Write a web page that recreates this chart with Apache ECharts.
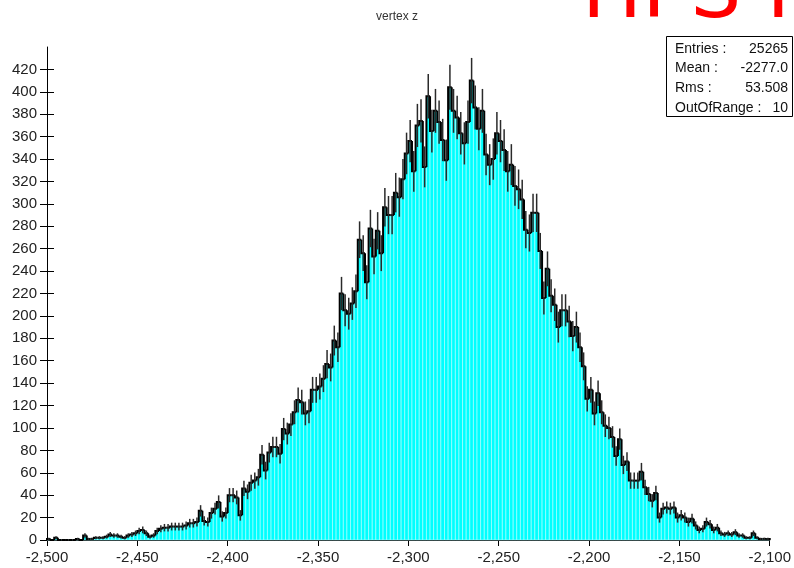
<!DOCTYPE html>
<html>
<head>
<meta charset="utf-8">
<script src="https://cdn.jsdelivr.net/npm/echarts@6/dist/echarts.min.js"></script>
<style>
  html, body { margin: 0; padding: 0; background: #ffffff; }
  #chart { width: 794px; height: 568px; }
</style>
</head>
<body>
<div id="chart"></div>
<script>
// Histogram binning: 200 bins of width 2 starting at -2500
const binStart = -2500;
const binWidth = 2;

// Entries per bin
const counts = [
  1, 0, 2, 0, 0, 0, 0, 0, 1, 0, 4, 1, 1, 2, 2, 2, 3, 5, 4, 4,
  3, 2, 4, 5, 6, 8, 9, 6, 3, 4, 8, 10, 11, 11, 12, 12, 12, 12, 13, 15,
  15, 16, 26, 17, 16, 24, 28, 34, 21, 24, 40, 40, 38, 22, 46, 43, 51, 53, 56, 76,
  62, 78, 83, 83, 77, 99, 95, 103, 114, 125, 123, 113, 115, 134, 134, 137, 144, 157, 154, 178,
  172, 220, 205, 202, 211, 222, 268, 256, 230, 278, 253, 276, 256, 297, 290, 290, 310, 306, 322, 345,
  356, 329, 370, 374, 333, 396, 365, 383, 373, 357, 339, 404, 383, 377, 363, 354, 373, 410, 386, 367,
  383, 344, 335, 340, 363, 356, 348, 329, 335, 316, 313, 304, 277, 274, 292, 292, 258, 216, 242, 218,
  210, 190, 205, 205, 195, 182, 190, 172, 155, 126, 134, 113, 131, 114, 102, 100, 92, 75, 90, 67,
  70, 53, 53, 53, 61, 47, 41, 35, 42, 20, 28, 29, 28, 29, 20, 22, 20, 16, 19, 13,
  9, 10, 16, 14, 9, 11, 6, 5, 6, 5, 7, 4, 4, 2, 2, 6, 2, 1, 1, 1
];

// Axis ticks
const xTickValues = [-2500, -2450, -2400, -2350, -2300, -2250, -2200, -2150, -2100];
const yTickValues = [0, 20, 40, 60, 80, 100, 120, 140, 160, 180, 200, 220, 240, 260, 280, 300, 320, 340, 360, 380, 400, 420];

// Texts
const titleText = 'vertex z';
const bannerText = 'HPS Internal';
const statsLabels = ['Entries :', 'Mean :', 'Rms :', 'OutOfRange :'];
const statsValues = ['25265', '-2277.0', '53.508', '10'];

// [low edge, high edge, count] per bin
const bins = counts.map((n, i) => [binStart + i * binWidth, binStart + (i + 1) * binWidth, n]);

const FONT = '"Liberation Sans", Arial, sans-serif';
const BANNER_FONT = '"DejaVu Sans", sans-serif';
const chart = echarts.init(document.getElementById('chart'), null, { renderer: 'canvas' });

function fillItem(params, api) {
  const lo = api.coord([api.value(0), 0]);
  const hi = api.coord([api.value(1), api.value(2)]);
  return {
    type: 'rect',
    shape: { x: lo[0], y: hi[1], width: hi[0] - lo[0], height: lo[1] - hi[1] },
    style: { fill: '#00ffff', stroke: '#b8ffff', lineWidth: 0.6 }
  };
}

function outlineItem(params, api) {
  const i = params.dataIndex;
  const x0 = api.value(0), x1 = api.value(1), n = api.value(2);
  const prev = i > 0 ? counts[i - 1] : 0;
  const pts = [api.coord([x0, prev]), api.coord([x0, n]), api.coord([x1, n])];
  if (i === counts.length - 1) pts.push(api.coord([x1, 0]));
  return {
    type: 'polyline',
    shape: { points: pts },
    style: { stroke: '#000000', lineWidth: 2, fill: null }
  };
}

function errorItem(params, api) {
  const n = api.value(2);
  if (n <= 0) return { type: 'group', children: [] };
  const xc = (api.value(0) + api.value(1)) / 2;
  const e = Math.sqrt(n);
  const a = api.coord([xc, n - e]);
  const b = api.coord([xc, n + e]);
  return {
    type: 'line',
    shape: { x1: a[0], y1: a[1], x2: b[0], y2: b[1] },
    style: { stroke: '#2a2a2a', lineWidth: 1.5 }
  };
}

const statsGraphics = [];
statsGraphics.push({
  type: 'rect',
  shape: { x: 666.5, y: 36.5, width: 126, height: 80 },
  style: { fill: '#ffffff', stroke: '#000000', lineWidth: 1 },
  z: 10
});
statsLabels.forEach((label, k) => {
  const y = 48.9 + k * 19.6;
  statsGraphics.push({
    type: 'text', x: 675, y: y, z: 11,
    style: { text: label, font: '14px ' + FONT, fill: '#111111', align: 'left', verticalAlign: 'middle' }
  });
  statsGraphics.push({
    type: 'text', x: 788, y: y, z: 11,
    style: { text: statsValues[k], font: '14px ' + FONT, fill: '#111111', align: 'right', verticalAlign: 'middle' }
  });
});

const option = {
  animation: false,
  backgroundColor: '#ffffff',
  title: {
    text: titleText,
    left: 'center',
    top: 6,
    textStyle: { fontFamily: FONT, fontSize: 12, fontWeight: 'normal', color: '#333333' }
  },
  grid: { left: 47, right: 19, top: 47, bottom: 28, containLabel: false },
  xAxis: {
    type: 'value',
    min: -2500,
    max: -2100,
    interval: 50,
    axisLine: { show: true, lineStyle: { color: '#000000', width: 1 } },
    axisTick: { show: true, inside: false, length: 6, lineStyle: { color: '#000000' }, customValues: xTickValues },
    axisLabel: {
      fontFamily: FONT, fontSize: 15, color: '#222222', margin: 10,
      customValues: xTickValues,
      formatter: v => v.toLocaleString('en-US')
    },
    splitLine: { show: false }
  },
  yAxis: [
    {
      type: 'value',
      min: 0,
      max: 440,
      axisLine: { show: true, lineStyle: { color: '#000000', width: 1 } },
      axisTick: { show: true, inside: false, length: 7, lineStyle: { color: '#000000' }, customValues: yTickValues },
      axisLabel: { fontFamily: FONT, fontSize: 15, color: '#222222', margin: 10, customValues: yTickValues },
      splitLine: { show: false }
    },
    {
      type: 'value',
      min: 0,
      max: 440,
      position: 'left',
      offset: 0,
      axisLine: { show: false },
      axisTick: { show: true, inside: true, length: 7, lineStyle: { color: '#000000' }, customValues: yTickValues },
      axisLabel: { show: false },
      splitLine: { show: false }
    }
  ],
  graphic: [
    {
      type: 'text', x: 582, y: -4, z: 12,
      style: { text: bannerText, font: '80px ' + BANNER_FONT, fill: '#ff0000', align: 'left', verticalAlign: 'middle' }
    }
  ].concat(statsGraphics),
  series: [
    {
      type: 'custom', name: 'fill', data: bins, encode: { x: [0, 1], y: 2 },
      renderItem: fillItem, z: 2, silent: true
    },
    {
      type: 'custom', name: 'outline', data: bins, encode: { x: [0, 1], y: 2 },
      renderItem: outlineItem, z: 3, silent: true
    },
    {
      type: 'custom', name: 'errors', data: bins, encode: { x: [0, 1], y: 2 },
      renderItem: errorItem, z: 4, silent: true
    }
  ]
};

chart.setOption(option);
</script>
</body>
</html>
